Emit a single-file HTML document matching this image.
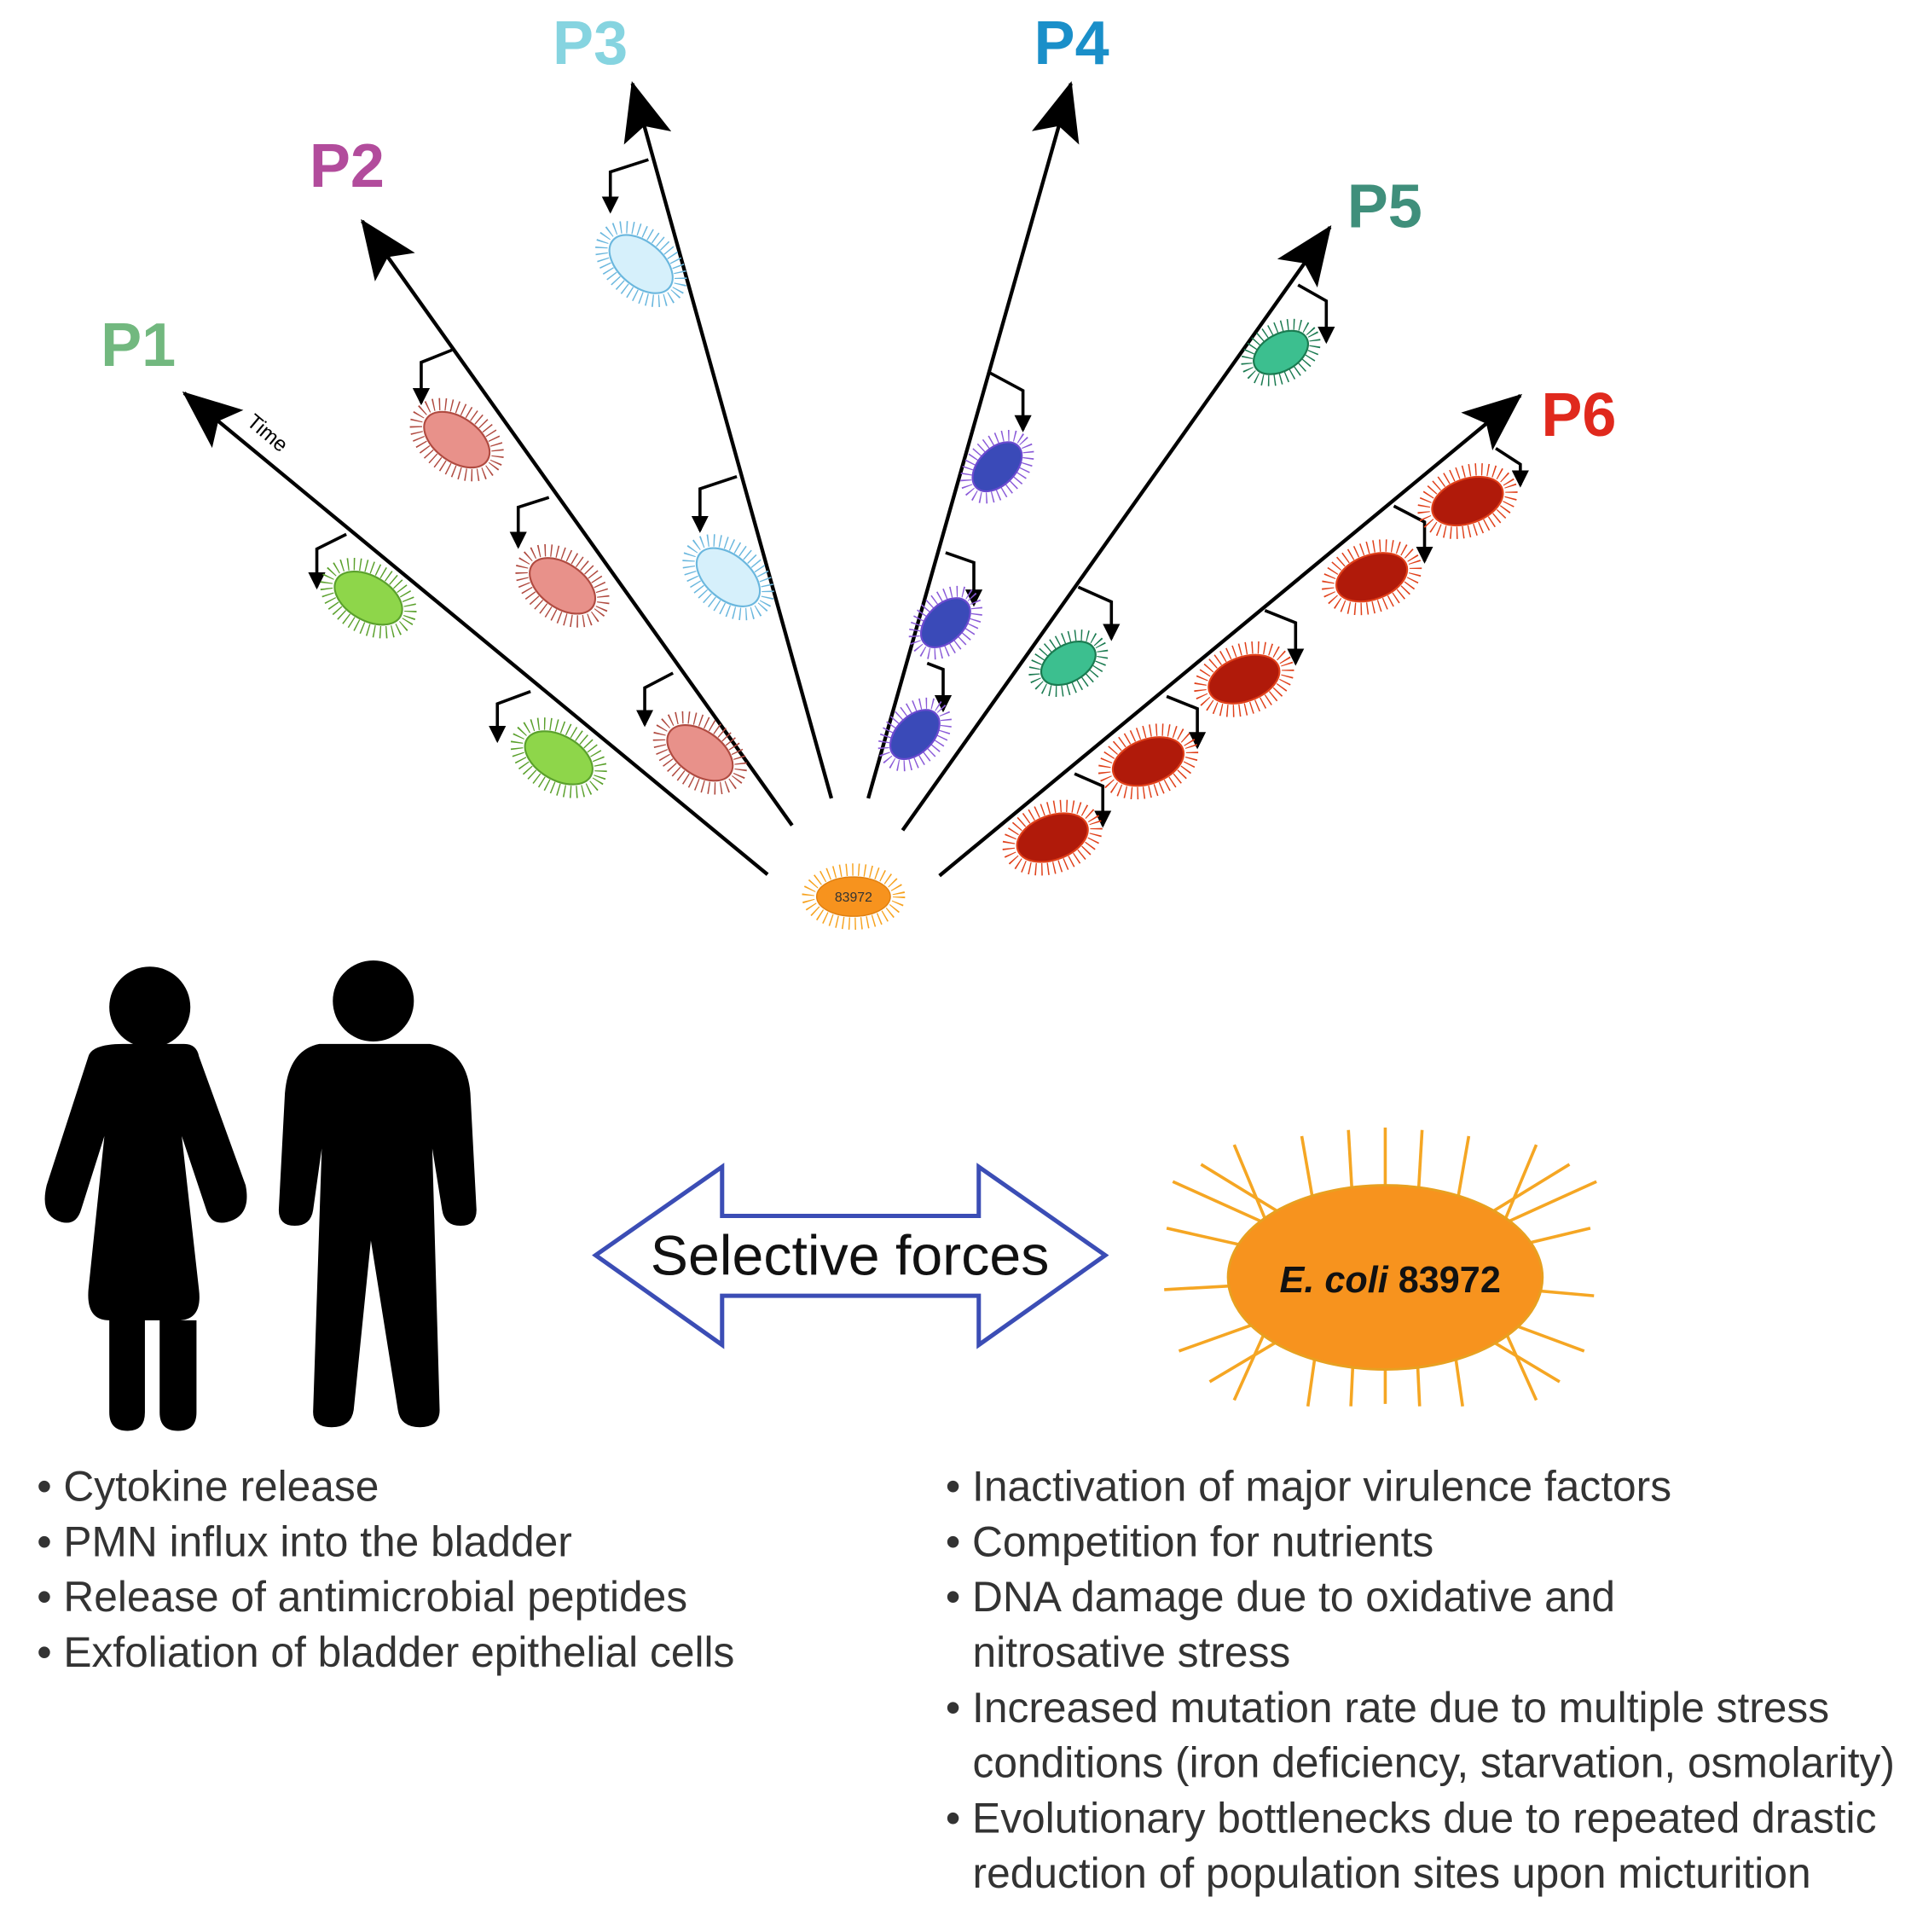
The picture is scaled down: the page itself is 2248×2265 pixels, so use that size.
<!DOCTYPE html>
<html><head><meta charset="utf-8"><style>html,body{margin:0;padding:0;background:#fff}svg{display:block}</style></head>
<body>
<svg width="2248" height="2265" viewBox="0 0 1561 1573" preserveAspectRatio="none" xmlns="http://www.w3.org/2000/svg" font-family="Liberation Sans, sans-serif">
<defs>
<marker id="big" markerUnits="userSpaceOnUse" markerWidth="50" markerHeight="40" refX="46" refY="20" orient="auto"><path d="M0,0 L48,20 L0,40 L10,20 Z" fill="#000"/></marker>
<marker id="sm" markerUnits="userSpaceOnUse" markerWidth="14" markerHeight="14" refX="12" refY="7" orient="auto"><path d="M0,0 L14,7 L0,14 Z" fill="#000"/></marker>
</defs>
<g stroke="#000" stroke-width="3" fill="none" marker-end="url(#big)">
<line x1="625" y1="712" x2="150" y2="320"/>
<line x1="645" y1="672" x2="295" y2="180"/>
<line x1="677" y1="650" x2="515" y2="68"/>
<line x1="707" y1="650" x2="872" y2="68"/>
<line x1="735" y1="676" x2="1083" y2="185"/>
<line x1="765" y1="713" x2="1238" y2="322"/>
</g>
<text x="200" y="345" font-size="17" transform="rotate(40 200 345)">Time</text>
<g font-weight="bold" font-size="50">
<text x="82" y="298" fill="#72b87f">P1</text>
<text x="252" y="152" fill="#b24c9c">P2</text>
<text x="450" y="52" fill="#86d4e0">P3</text>
<text x="842" y="52" fill="#1a8fc9">P4</text>
<text x="1097" y="185" fill="#3f8f7b">P5</text>
<text x="1255" y="355" fill="#e0291d">P6</text>
</g>
<g stroke="#000" stroke-width="2.5" fill="none" marker-end="url(#sm)">
<polyline points="282,435 258,447 258,478"/>
<polyline points="432,563 405,573 405,603"/>
<polyline points="368,285 343,295 343,328"/>
<polyline points="447,405 422,413 422,445"/>
<polyline points="548,548 525,560 525,590"/>
<polyline points="528,130 497,140 497,172"/>
<polyline points="600,388 570,398 570,432"/>
<polyline points="805,303 833,318 833,350"/>
<polyline points="770,450 793,458 793,492"/>
<polyline points="755,540 768,545 768,578"/>
<polyline points="1057,232 1080,245 1080,278"/>
<polyline points="878,478 905,490 905,520"/>
<polyline points="1218,365 1238,378 1238,395"/>
<polyline points="1135,412 1160,425 1160,457"/>
<polyline points="1030,497 1055,507 1055,540"/>
<polyline points="950,567 975,577 975,608"/>
<polyline points="875,630 898,640 898,672"/>
</g>
<g>
<g transform="translate(300,487) rotate(30)"><ellipse rx="37" ry="24" fill="none" stroke="#5aa02c" stroke-width="10" stroke-dasharray="1 4"/><ellipse rx="30" ry="18" fill="#8ed64a" stroke="#5aa02c" stroke-width="1.5"/></g>
<g transform="translate(455,617) rotate(30)"><ellipse rx="37" ry="24" fill="none" stroke="#5aa02c" stroke-width="10" stroke-dasharray="1 4"/><ellipse rx="30" ry="18" fill="#8ed64a" stroke="#5aa02c" stroke-width="1.5"/></g>
<g transform="translate(372,358) rotate(35)"><ellipse rx="37" ry="24" fill="none" stroke="#b04a40" stroke-width="10" stroke-dasharray="1 4"/><ellipse rx="30" ry="18" fill="#e8918a" stroke="#b04a40" stroke-width="1.5"/></g>
<g transform="translate(458,477) rotate(35)"><ellipse rx="37" ry="24" fill="none" stroke="#b04a40" stroke-width="10" stroke-dasharray="1 4"/><ellipse rx="30" ry="18" fill="#e8918a" stroke="#b04a40" stroke-width="1.5"/></g>
<g transform="translate(570,613) rotate(35)"><ellipse rx="37" ry="24" fill="none" stroke="#b04a40" stroke-width="10" stroke-dasharray="1 4"/><ellipse rx="30" ry="18" fill="#e8918a" stroke="#b04a40" stroke-width="1.5"/></g>
<g transform="translate(522,215) rotate(40)"><ellipse rx="37" ry="24" fill="none" stroke="#6ab7de" stroke-width="10" stroke-dasharray="1 4"/><ellipse rx="30" ry="18" fill="#d6f0fb" stroke="#6ab7de" stroke-width="1.5"/></g>
<g transform="translate(593,470) rotate(40)"><ellipse rx="37" ry="24" fill="none" stroke="#6ab7de" stroke-width="10" stroke-dasharray="1 4"/><ellipse rx="30" ry="18" fill="#d6f0fb" stroke="#6ab7de" stroke-width="1.5"/></g>
<g transform="translate(812,380) rotate(-45)"><ellipse rx="30" ry="20" fill="none" stroke="#8a5ad8" stroke-width="9" stroke-dasharray="1 4"/><ellipse rx="24" ry="15" fill="#3a4ab8" stroke="#6a4ad0" stroke-width="1.5"/></g>
<g transform="translate(770,507) rotate(-45)"><ellipse rx="30" ry="20" fill="none" stroke="#8a5ad8" stroke-width="9" stroke-dasharray="1 4"/><ellipse rx="24" ry="15" fill="#3a4ab8" stroke="#6a4ad0" stroke-width="1.5"/></g>
<g transform="translate(745,598) rotate(-45)"><ellipse rx="30" ry="20" fill="none" stroke="#8a5ad8" stroke-width="9" stroke-dasharray="1 4"/><ellipse rx="24" ry="15" fill="#3a4ab8" stroke="#6a4ad0" stroke-width="1.5"/></g>
<g transform="translate(1043,287) rotate(-30)"><ellipse rx="30" ry="20" fill="none" stroke="#1a7a50" stroke-width="9" stroke-dasharray="1 4"/><ellipse rx="24" ry="15" fill="#3cbf8f" stroke="#1a7a50" stroke-width="1.5"/></g>
<g transform="translate(870,540) rotate(-30)"><ellipse rx="30" ry="20" fill="none" stroke="#1a7a50" stroke-width="9" stroke-dasharray="1 4"/><ellipse rx="24" ry="15" fill="#3cbf8f" stroke="#1a7a50" stroke-width="1.5"/></g>
<g transform="translate(1195,408) rotate(-20)"><ellipse rx="37" ry="24" fill="none" stroke="#e0401a" stroke-width="10" stroke-dasharray="1 4"/><ellipse rx="30" ry="18" fill="#b01a0a" stroke="#e0401a" stroke-width="1.5"/></g>
<g transform="translate(1117,470) rotate(-20)"><ellipse rx="37" ry="24" fill="none" stroke="#e0401a" stroke-width="10" stroke-dasharray="1 4"/><ellipse rx="30" ry="18" fill="#b01a0a" stroke="#e0401a" stroke-width="1.5"/></g>
<g transform="translate(1013,553) rotate(-20)"><ellipse rx="37" ry="24" fill="none" stroke="#e0401a" stroke-width="10" stroke-dasharray="1 4"/><ellipse rx="30" ry="18" fill="#b01a0a" stroke="#e0401a" stroke-width="1.5"/></g>
<g transform="translate(935,620) rotate(-20)"><ellipse rx="37" ry="24" fill="none" stroke="#e0401a" stroke-width="10" stroke-dasharray="1 4"/><ellipse rx="30" ry="18" fill="#b01a0a" stroke="#e0401a" stroke-width="1.5"/></g>
<g transform="translate(857,682) rotate(-20)"><ellipse rx="37" ry="24" fill="none" stroke="#e0401a" stroke-width="10" stroke-dasharray="1 4"/><ellipse rx="30" ry="18" fill="#b01a0a" stroke="#e0401a" stroke-width="1.5"/></g>
<g transform="translate(695,730)"><ellipse rx="37" ry="22" fill="none" stroke="#f7a21e" stroke-width="10" stroke-dasharray="1 4"/><ellipse rx="30" ry="16" fill="#f7931e" stroke="#e08010" stroke-width="1"/><text x="0" y="4" font-size="11" text-anchor="middle" fill="#333">83972</text></g>
</g>
<g fill="#000">
<circle cx="122" cy="820" r="33"/>
<path d="M100,850 H150 Q160,850 162,860 L200,965 Q205,990 185,995 Q172,998 168,985 L148,925 L162,1050 Q165,1075 145,1075 H160 V1150 Q160,1165 145,1165 Q130,1165 130,1150 V1075 H118 V1150 Q118,1165 104,1165 Q89,1165 89,1150 V1075 Q70,1075 72,1050 L85,925 L66,985 Q62,998 50,995 Q32,990 38,965 L72,860 Q75,850 100,850 Z"/>
<circle cx="304" cy="815" r="33"/>
<path d="M260,850 H350 Q380,855 383,890 L388,985 Q388,998 375,998 Q362,998 360,985 L352,935 L358,1148 Q358,1162 342,1162 Q326,1162 324,1148 L302,1010 L288,1148 Q286,1162 270,1162 Q254,1162 255,1148 L262,935 L255,985 Q253,998 240,998 Q227,998 227,985 L232,890 Q235,855 260,850 Z"/>
</g>
<path d="M485,1022 L588,950 V990 H797 V950 L900,1022 L797,1095 V1055 H588 V1095 Z" fill="#fff" stroke="#3b4db5" stroke-width="3.5"/>
<text x="692" y="1038" font-size="46" text-anchor="middle" fill="#111">Selective forces</text>
<g stroke="#f5a623" stroke-width="2.5">
<line x1="1128" y1="1040" x2="1128" y2="918"/>
<line x1="1128" y1="1040" x2="1128" y2="1143"/>
<line x1="1050" y1="1040" x2="1005" y2="932"/><line x1="1206" y1="1040" x2="1251" y2="932"/>
<line x1="1050" y1="1040" x2="1005" y2="1140"/><line x1="1206" y1="1040" x2="1251" y2="1140"/>
<line x1="1080" y1="1040" x2="1060" y2="925"/><line x1="1176" y1="1040" x2="1196" y2="925"/>
<line x1="1080" y1="1040" x2="1065" y2="1145"/><line x1="1176" y1="1040" x2="1191" y2="1145"/>
<line x1="1105" y1="1040" x2="1098" y2="920"/><line x1="1151" y1="1040" x2="1158" y2="920"/>
<line x1="1105" y1="1040" x2="1100" y2="1145"/><line x1="1151" y1="1040" x2="1156" y2="1145"/>
<line x1="1128" y1="1040" x2="955" y2="962"/><line x1="1128" y1="1040" x2="1300" y2="962"/>
<line x1="1128" y1="1040" x2="950" y2="1000"/><line x1="1128" y1="1040" x2="1295" y2="1000"/>
<line x1="1128" y1="1040" x2="948" y2="1050"/><line x1="1128" y1="1040" x2="1298" y2="1055"/>
<line x1="1128" y1="1040" x2="960" y2="1100"/><line x1="1128" y1="1040" x2="1290" y2="1100"/>
<line x1="1128" y1="1040" x2="985" y2="1125"/><line x1="1128" y1="1040" x2="1270" y2="1125"/>
<line x1="1128" y1="1040" x2="978" y2="948"/><line x1="1128" y1="1040" x2="1278" y2="948"/>
</g>
<ellipse cx="1128" cy="1040" rx="128" ry="75" fill="#f7931e" stroke="#e8a020" stroke-width="2"/>
<text x="1132" y="1052" font-size="30" font-weight="bold" text-anchor="middle" fill="#111"><tspan font-style="italic">E. coli</tspan> 83972</text>
<g font-size="34.5" fill="#333">
<text x="30" y="1222">• Cytokine release</text>
<text x="30" y="1267">• PMN influx into the bladder</text>
<text x="30" y="1312">• Release of antimicrobial peptides</text>
<text x="30" y="1357">• Exfoliation of bladder epithelial cells</text>
<text x="770" y="1222">• Inactivation of major virulence factors</text>
<text x="770" y="1267">• Competition for nutrients</text>
<text x="770" y="1312">• DNA damage due to oxidative and</text>
<text x="792" y="1357">nitrosative stress</text>
<text x="770" y="1402">• Increased mutation rate due to multiple stress</text>
<text x="792" y="1447">conditions (iron deficiency, starvation, osmolarity)</text>
<text x="770" y="1492">• Evolutionary bottlenecks due to repeated drastic</text>
<text x="792" y="1537">reduction of population sites upon micturition</text>
</g>
</svg>
</body></html>
